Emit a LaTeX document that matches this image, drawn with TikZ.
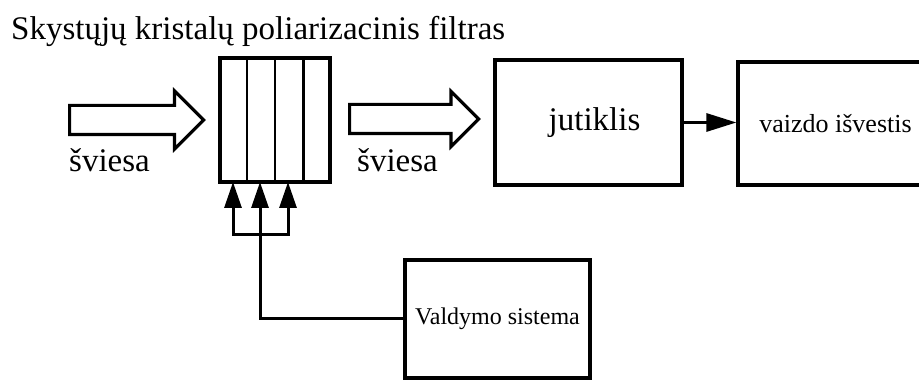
\documentclass[tikz,border=0pt]{standalone}
\usepackage{fontspec}
\setmainfont{Liberation Serif}
\usetikzlibrary{arrows.meta,shapes.arrows,calc}

\tikzset{
  blockbox/.style={draw=black, line width=3.2pt, fill=white, inner sep=0pt},
  lightarrow/.style={shape=single arrow, draw=black, line width=3.2pt,
    inner xsep=0pt, inner ysep=13pt, single arrow head indent=0pt,
    single arrow tip angle=90, anchor=tail},
  wire/.style={line width=3pt, line cap=rect},
  feed/.style={line width=3pt, -{Triangle[length=26pt,width=17pt]}},
  stripe/.style={line width=2.4pt},
  fs/.style={font=\fontsize{#1}{#1}\selectfont}
}

\begin{document}
\begin{tikzpicture}[x=1pt, y=-1pt]
  \useasboundingbox (0,0) rectangle (919,382);

  % caption
  \node[fs=33, anchor=base west, inner sep=0pt] (title) at (11,40)
    {Skystųjų kristalų poliarizacinis filtras};

  % liquid crystal filter with four cells
  \node[blockbox, minimum width=110, minimum height=124] (filter) at (275,120) {};
  \foreach \i in {1,2,3}
    \draw[stripe] ($(filter.south west)!\i/4!(filter.south east)$)
               -- ($(filter.north west)!\i/4!(filter.north east)$);

  % incoming and outgoing light
  \node[lightarrow, minimum height=134, single arrow head extend=14.5pt] (lightin) at (68,120) {};
  \node[lightarrow, minimum height=129, single arrow head extend=13pt] (lightout) at (348,119) {};
  \node[fs=33, anchor=base west, inner sep=0pt] (lblin)  at (69,172) {šviesa};
  \node[fs=33, anchor=base west, inner sep=0pt] (lblout) at (357,172) {šviesa};

  % sensor and image output
  \node[blockbox, fs=33, minimum width=187, minimum height=125] (sensor) at (588.5,122.5) {\hspace{12pt}jutiklis};
  \node[blockbox, fs=26, minimum width=195, minimum height=123] (output) at (835.5,123.5) {vaizdo išvestis};
  \draw[line width=3pt, -{Triangle[length=30pt,width=18pt]}]
    (sensor.east) -- (sensor.east -| output.west);

  % control system
  \node[blockbox, fs=24, minimum width=185, minimum height=118] (ctrl) at (497.5,319) {Valdymo sistema};

  % control lines to the filter cells
  \coordinate (t1) at (233,182);
  \coordinate (t2) at (260,182);
  \coordinate (t3) at (288,182);
  \coordinate (b1) at (233,235);
  \coordinate (b2) at (260,235);
  \coordinate (b3) at (288,235);
  \draw[wire] (ctrl.west) -| (b2);
  \draw[wire] (b1) -- (b3);
  \draw[feed] (b1) -- (t1);
  \draw[feed] (b2) -- (t2);
  \draw[feed] (b3) -- (t3);
\end{tikzpicture}
\end{document}
